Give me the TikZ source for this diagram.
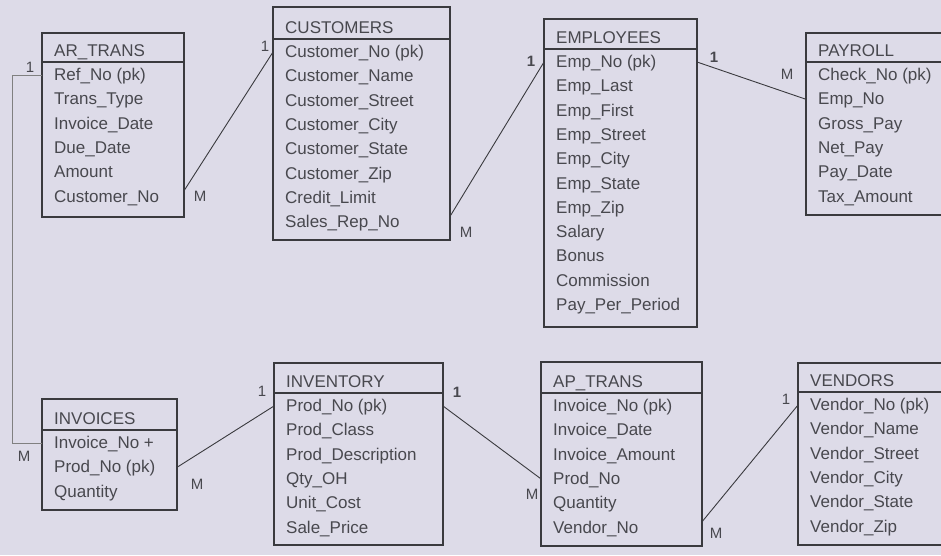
\documentclass[tikz,border=0pt]{standalone}
\usepackage{fontspec}
\setmainfont{Liberation Sans}
\definecolor{bgcol}{RGB}{221,219,232}
\definecolor{inkcol}{RGB}{58,58,62}
\definecolor{txtcol}{RGB}{72,72,78}
\tikzset{
  tbl/.style={draw=inkcol, line width=1.2pt, anchor=north west, inner sep=0pt, outer sep=0pt},
  tblline/.style={draw=inkcol, line width=1.2pt},
  field/.style={anchor=west, inner sep=0pt, text height=11pt, text depth=0pt,
    text=txtcol, font=\fontsize{17}{20}\selectfont},
  card/.style={inner sep=0pt, text=txtcol, font=\fontsize{15}{18}\selectfont},
  link/.style={draw=inkcol, line width=0.9pt},
}
% table: name, left, top, right, bottom, header line, title, fields
\newcommand\ertable[8]{%
  \node[tbl, minimum width={(#4-#2)*1pt}, minimum height={(#5-#3)*1pt}] (#1) at (#2,#3) {};
  \draw[tblline] (#2,#6) -- (#4,#6);
  \node[field] (#1-t) at (#2+12,#6-11) {#7};
  \foreach \f [count=\i] in {#8}
    \node[field] (#1-\i) at (#2+12,#6+13+24.3*\i-24.3) {\f};
}
\begin{document}
\begin{tikzpicture}[x=1pt,y=-1pt]
    \fill[bgcol] (0,0) rectangle (941,555);
    \clip (0,0) rectangle (941,555);
    \ertable{arr}{42}{33}{184}{217}{62}{AR\_TRANS}{Ref\_No (pk),Trans\_Type,Invoice\_Date,Due\_Date,Amount,Customer\_No}
    \ertable{cus}{273}{7}{450}{240}{39}{CUSTOMERS}{Customer\_No (pk),Customer\_Name,Customer\_Street,Customer\_City,Customer\_State,Customer\_Zip,Credit\_Limit,Sales\_Rep\_No}
    \ertable{emp}{544}{19}{697}{327}{49}{EMPLOYEES}{Emp\_No (pk),Emp\_Last,Emp\_First,Emp\_Street,Emp\_City,Emp\_State,Emp\_Zip,Salary,Bonus,Commission,Pay\_Per\_Period}
    \ertable{pay}{806}{33}{960}{215}{62}{PAYROLL}{Check\_No (pk),Emp\_No,Gross\_Pay,Net\_Pay,Pay\_Date,Tax\_Amount}
    \ertable{ivc}{42}{399}{177}{510}{430}{INVOICES}{Invoice\_No +,Prod\_No (pk),Quantity}
    \ertable{inv}{274}{363}{443}{545}{393}{INVENTORY}{Prod\_No (pk),Prod\_Class,Prod\_Description,Qty\_OH,Unit\_Cost,Sale\_Price}
    \ertable{apt}{541}{362}{702}{546}{393}{AP\_TRANS}{Invoice\_No (pk),Invoice\_Date,Invoice\_Amount,Prod\_No,Quantity,Vendor\_No}
    \ertable{ven}{798}{363}{960}{545}{392}{VENDORS}{Vendor\_No (pk),Vendor\_Name,Vendor\_Street,Vendor\_City,Vendor\_State,Vendor\_Zip}

    % relationships
    \draw[link] (arr.east |- arr-6.north) -- (cus.west |- cus-1);
    \draw[link] (cus.east |- cus-8.north) -- (emp.west |- emp-1);
    \draw[link] (emp.east |- emp-1) -- (pay.west |- pay-2);
    \draw[link, draw=gray] (arr.west |- arr-1) -- ++(-30,0) |- (ivc.west |- ivc-1);
    \draw[link] (ivc.east |- ivc-2) -- (inv.west |- inv-1);
    \draw[link] (inv.east |- inv-1) -- (apt.west |- apt-4);
    \draw[link] (apt.east |- apt-6.north) -- (ven.west |- ven-1);

    \node[card] (c1m) at (200,196) {M};
    \node[card] (c1o) at (265,46) {1};
    \node[card] (c2m) at (466,232) {M};
    \node[card] (c2o) at (531,61) {\bfseries 1};
    \node[card] (c3o) at (714,57) {\bfseries 1};
    \node[card] (c3m) at (787,74) {M};
    \node[card] (c4o) at (30,67) {1};
    \node[card] (c4m) at (24,456) {M};
    \node[card] (c5m) at (197,484) {M};
    \node[card] (c5o) at (262,391) {1};
    \node[card] (c6o) at (457,392) {\bfseries 1};
    \node[card] (c6m) at (532,494) {M};
    \node[card] (c7m) at (716,533) {M};
    \node[card] (c7o) at (786,399) {1};
\end{tikzpicture}
\end{document}
